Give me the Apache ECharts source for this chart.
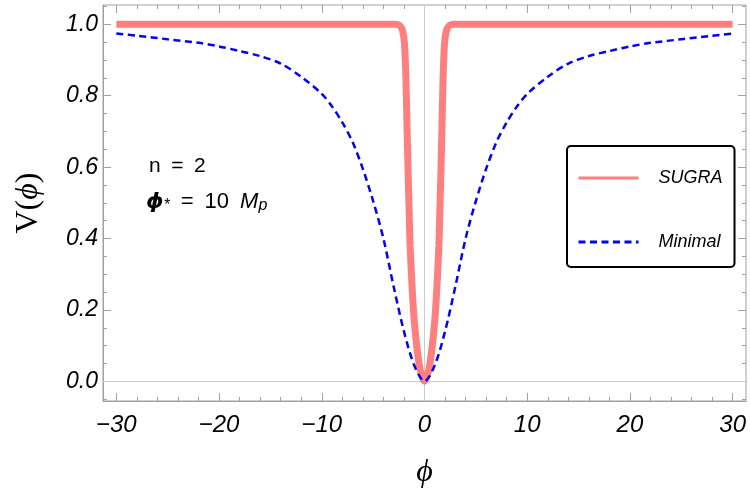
<!DOCTYPE html>
<html>
<head>
<meta charset="utf-8">
<script src="https://cdn.jsdelivr.net/npm/echarts@6/dist/echarts.min.js"></script>
<style>
  html, body { margin: 0; padding: 0; background: #fff; }
  #chart { width: 750px; height: 500px; }
</style>
</head>
<body>
<div id="chart"></div>
<script>
// axis ranges / ticks
const xMin = -31.3
const xMax = 31.3
const yMin = -0.055
const yMax = 1.054
const xMajor = [-30, -20, -10, 0, 10, 20, 30]
const xMinor = [-30, -28, -26, -24, -22, -20, -18, -16, -14, -12, -10, -8, -6, -4, -2, 0,
  2, 4, 6, 8, 10, 12, 14, 16, 18, 20, 22, 24, 26, 28, 30]
const yMajor = [0, 0.2, 0.4, 0.6, 0.8, 1.0]
const yMinor = [-0.05, 0, 0.05, 0.1, 0.15, 0.2, 0.25, 0.3, 0.35, 0.4, 0.45, 0.5, 0.55, 0.6,
  0.65, 0.7, 0.75, 0.8, 0.85, 0.9, 0.95, 1.0, 1.05]

// SUGRA curve
const sugraX = [-30, -3, -2.5, -2.2, -2.0, -1.9, -1.8, -1.7, -1.6, -1.5, -1.4, -1.2, -1.0, -0.7, -0.4, 0,
  0.4, 0.7, 1.0, 1.2, 1.4, 1.5, 1.6, 1.7, 1.8, 1.9, 2.0, 2.2, 2.5, 3, 30]
const sugraY = [1, 1, 0.998, 0.988, 0.96, 0.92, 0.84, 0.71, 0.59, 0.48, 0.38, 0.26, 0.17, 0.085, 0.03, 0,
  0.03, 0.085, 0.17, 0.26, 0.38, 0.48, 0.59, 0.71, 0.84, 0.92, 0.96, 0.988, 0.998, 1, 1]

// Minimal curve
const minimalX = [-30, -28, -25, -22, -20, -18, -16, -14, -12, -10, -9, -8, -7, -6, -5, -4, -3, -2, -1, 0,
  1, 2, 3, 4, 5, 6, 7, 8, 9, 10, 12, 14, 16, 18, 20, 22, 25, 28, 30]
const minimalY = [0.974, 0.968, 0.958, 0.948, 0.938, 0.925, 0.911, 0.89, 0.853, 0.805, 0.77, 0.725, 0.67, 0.595, 0.505, 0.40, 0.265, 0.14, 0.045, 0,
  0.045, 0.14, 0.265, 0.40, 0.505, 0.595, 0.67, 0.725, 0.77, 0.805, 0.853, 0.89, 0.911, 0.925, 0.938, 0.948, 0.958, 0.968, 0.974]

const frameColor = '#a0a0a0'
const sans = 'Liberation Sans, Arial, sans-serif'
const serif = 'Liberation Serif, DejaVu Serif, serif'

const chart = echarts.init(document.getElementById('chart'))

const fmtX = (v) => (v < 0 ? '\u2212' + Math.abs(v) : String(v))

// frame axes: ticks only, pinned to the frame edges
const tickAxis = (kind, position, values, len) => ({
  type: 'value',
  position: position,
  min: kind === 'x' ? xMin : yMin,
  max: kind === 'x' ? xMax : yMax,
  axisLine: { show: false, onZero: false },
  axisTick: { show: true, inside: true, length: len, customValues: values, lineStyle: { color: frameColor } },
  axisLabel: { show: false },
  splitLine: { show: false }
})

const option = {
  animation: false,
  backgroundColor: '#fff',
  grid: {
    left: 103, right: 4, top: 5, bottom: 99,
    show: true, borderColor: frameColor, borderWidth: 1
  },
  xAxis: [
    {
      type: 'value',
      position: 'bottom',
      min: xMin,
      max: xMax,
      axisLine: { show: true, onZero: false, lineStyle: { color: frameColor } },
      axisTick: { show: true, inside: true, length: 8, customValues: xMajor, lineStyle: { color: frameColor } },
      axisLabel: {
        customValues: xMajor,
        formatter: fmtX,
        color: '#000',
        fontSize: 24,
        fontStyle: 'italic',
        fontFamily: sans,
        margin: 12
      },
      splitLine: { show: false },
      name: '\u03D5',
      nameLocation: 'middle',
      nameGap: 56,
      nameTextStyle: { fontFamily: serif, fontStyle: 'italic', fontSize: 32, color: '#000' }
    },
    tickAxis('x', 'bottom', xMinor, 4),
    tickAxis('x', 'top', xMajor, 8),
    tickAxis('x', 'top', xMinor, 4)
  ],
  yAxis: [
    {
      type: 'value',
      position: 'left',
      min: yMin,
      max: yMax,
      axisLine: { show: true, onZero: false, lineStyle: { color: frameColor } },
      axisTick: { show: true, inside: true, length: 8, customValues: yMajor, lineStyle: { color: frameColor } },
      axisLabel: {
        customValues: yMajor,
        formatter: (v) => v.toFixed(1),
        color: '#000',
        fontSize: 23,
        fontStyle: 'italic',
        fontFamily: sans,
        margin: 5
      },
      splitLine: { show: false },
      name: '{v|V(}{p|\u03D5}{v|)}',
      nameLocation: 'middle',
      nameGap: 58,
      nameRotate: 90,
      nameTextStyle: {
        rich: {
          v: { fontFamily: serif, fontSize: 32, color: '#000' },
          p: { fontFamily: serif, fontStyle: 'italic', fontSize: 32, color: '#000' }
        }
      }
    },
    tickAxis('y', 'left', yMinor, 4),
    tickAxis('y', 'right', yMajor, 8),
    tickAxis('y', 'right', yMinor, 4)
  ],
  legend: {
    orient: 'vertical',
    left: 567,
    top: 146,
    padding: [23, 12, 16, 10],
    backgroundColor: '#fff',
    borderColor: '#000',
    borderWidth: 2,
    borderRadius: 4,
    itemWidth: 60,
    itemHeight: 14,
    itemGap: 46,
    itemStyle: { opacity: 0 },
    textStyle: { fontFamily: sans, fontStyle: 'italic', fontSize: 18, color: '#000', padding: [0, 0, 0, 15] },
    data: [
      { name: 'SUGRA', lineStyle: { width: 3 } },
      { name: 'Minimal', lineStyle: { width: 3 } }
    ]
  },
  graphic: [
    {
      type: 'text',
      left: 149,
      top: 156,
      style: { text: 'n\u2002=\u20022', font: '21px ' + sans, fill: '#000' }
    },
    {
      type: 'text',
      left: 146,
      top: 191,
      style: {
        text: '{f|\u03D5}{s|*}{a|\u2002=\u200210\u2002}{i|M}{s|p}',
        rich: {
          f: { fontFamily: 'DejaVu Sans', fontStyle: 'italic', fontWeight: 'bold', fontSize: 22, fill: '#000' },
          a: { fontFamily: sans, fontSize: 22, fill: '#000' },
          i: { fontFamily: sans, fontStyle: 'italic', fontSize: 22, fill: '#000' },
          s: { fontFamily: sans, fontStyle: 'italic', fontSize: 16, fill: '#000', verticalAlign: 'bottom', padding: [8, 0, 0, 0] }
        }
      }
    }
  ],
  series: [
    {
      name: 'SUGRA',
      type: 'line',
      data: sugraX.map((x, i) => [x, sugraY[i]]),
      symbol: 'none',
      smooth: 0.3,
      lineStyle: { color: '#ff7f7f', width: 7 },
      itemStyle: { color: '#ff7f7f' },
      z: 3
    },
    {
      name: 'Minimal',
      type: 'line',
      data: minimalX.map((x, i) => [x, minimalY[i]]),
      symbol: 'none',
      smooth: 0.3,
      lineStyle: { color: '#0000ff', width: 2.5, type: [7, 4.5] },
      itemStyle: { color: '#0000ff' },
      z: 4,
      markLine: {
        silent: true,
        symbol: 'none',
        label: { show: false },
        lineStyle: { color: '#cccccc', width: 1, type: 'solid' },
        data: [{ xAxis: 0 }, { yAxis: 0 }],
        z: 1
      }
    }
  ]
}

chart.setOption(option)
</script>
</body>
</html>
